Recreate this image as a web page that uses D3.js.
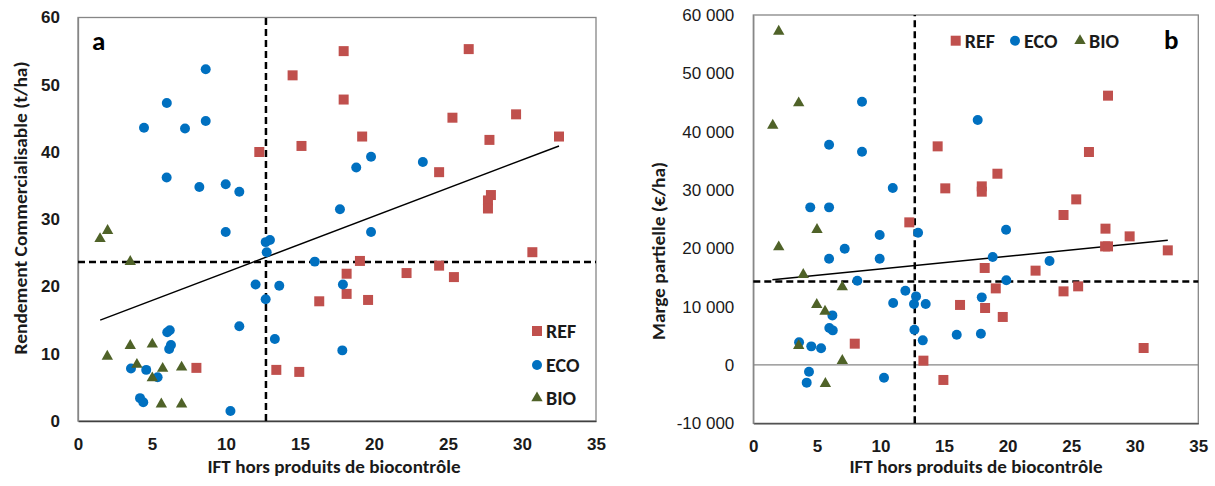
<!DOCTYPE html>
<html>
<head>
<meta charset="utf-8">
<script src="https://cdn.jsdelivr.net/npm/d3@7"></script>
<style>
  body { margin: 0; background: #fff; }
  svg { font-family: Carlito, Lato, sans-serif; }
</style>
</head>
<body>
<div id="chart"></div>
<script>
// shared x ticks
const iftTicks = [0, 5, 10, 15, 20, 25, 30, 35]

// panel a : rendement commercialisable (t/ha)
const yieldTicks = [0, 10, 20, 30, 40, 50, 60]
const refIftA = [12.25, 14.5, 15.1, 17.95, 17.95, 26.4, 25.3, 29.6, 19.2, 27.8, 32.5, 24.4, 27.9, 27.7, 27.7, 30.7, 16.3, 8.0, 13.4, 14.95, 19.05, 18.15, 22.2, 24.4, 25.4, 18.15, 19.6]
const refYield = [40.0, 51.4, 40.9, 55.0, 47.8, 55.3, 45.1, 45.6, 42.3, 41.8, 42.3, 37.0, 33.6, 32.8, 31.6, 25.1, 17.8, 7.9, 7.6, 7.3, 23.8, 21.9, 22.0, 23.1, 21.4, 18.9, 18.0]
const ecoIftA = [8.63, 6.0, 4.46, 7.23, 8.63, 5.99, 8.2, 9.98, 10.9, 9.98, 12.68, 12.97, 12.75, 19.8, 18.8, 23.3, 17.7, 19.8, 16.0, 12.0, 13.6, 12.68, 10.9, 13.3, 6.03, 6.2, 6.28, 6.16, 3.58, 4.61, 5.38, 4.19, 4.41, 10.3, 17.9, 17.86]
const ecoYield = [52.3, 47.3, 43.6, 43.5, 44.6, 36.2, 34.8, 35.2, 34.1, 28.1, 26.6, 26.9, 25.1, 39.3, 37.7, 38.5, 31.5, 28.1, 23.7, 20.3, 20.1, 18.1, 14.1, 12.2, 13.2, 13.5, 11.3, 10.7, 7.8, 7.6, 6.5, 3.4, 2.8, 1.5, 20.3, 10.5]
const bioIftA = [1.49, 2.0, 3.53, 3.53, 5.02, 1.98, 3.98, 5.72, 7.0, 5.02, 5.63, 7.0]
const bioYield = [27.1, 28.3, 23.7, 11.2, 11.4, 9.6, 8.4, 7.8, 8.0, 6.4, 2.5, 2.5]
const trendIftA = [1.5, 32.5]
const trendYield = [15.0, 40.9]
const yieldMean = 23.66

// panel b : marge partielle (€/ha)
const marginTicks = [-10000, 0, 10000, 20000, 30000, 40000, 50000, 60000]
const refIftB = [12.27, 7.98, 13.38, 27.9, 14.5, 26.4, 19.2, 15.1, 17.97, 17.97, 25.4, 24.4, 27.7, 29.6, 27.67, 27.9, 32.6, 18.2, 22.2, 19.07, 24.4, 25.55, 16.26, 18.23, 19.62, 30.7, 14.95]
const refMargin = [24450, 3650, 740, 46170, 37480, 36510, 32790, 30280, 30620, 29710, 28390, 25710, 23370, 22050, 20330, 20330, 19650, 16630, 16170, 13130, 12620, 13480, 10290, 9770, 8230, 2910, -2570]
const ecoIftB = [8.55, 5.96, 8.55, 10.97, 4.48, 5.96, 12.96, 9.94, 7.19, 5.96, 9.94, 8.18, 11.96, 12.8, 11.0, 12.64, 13.56, 6.22, 5.98, 6.25, 12.67, 13.33, 3.6, 4.56, 5.33, 4.38, 4.2, 10.28, 17.65, 19.88, 18.83, 23.3, 19.9, 17.97, 16.0, 17.9]
const ecoMargin = [45140, 37770, 36570, 30340, 27020, 27020, 22680, 22290, 19940, 18220, 18220, 14450, 12740, 11760, 10630, 10460, 10460, 8500, 6340, 5930, 6050, 4220, 3880, 3190, 2850, -1150, -3030, -2180, 42000, 23200, 18510, 17830, 14510, 11590, 5190, 5370]
const bioIftB = [2.0, 3.57, 1.53, 5.01, 2.0, 3.93, 7.0, 4.99, 5.64, 3.57, 7.0, 5.67]
const bioMargin = [57190, 44900, 41080, 23200, 20230, 15480, 13370, 10340, 9190, 3310, 740, -3200]
const trendIftB = [1.5, 32.6]
const trendMargin = [14600, 21370]
const marginMean = 14330

const iftMean = 12.7
const groups = ['REF', 'ECO', 'BIO']
const colors = { REF: '#C0504D', ECO: '#0070C0', BIO: '#4F6228' }
const shapes = { REF: d3.symbolSquare, ECO: d3.symbolCircle, BIO: d3.symbolTriangle }
const sizes = { REF: 100, ECO: 78, BIO: 56 }

const frLocale = d3.formatLocale({ decimal: ',', thousands: ' ', grouping: [3], currency: ['', ' €'], minus: '-' })

const svg = d3.select('#chart')
  .append('svg')
  .attr('width', 1215)
  .attr('height', 486)

const zip = (xs, ys) => xs.map((x, i) => ({ x, y: ys[i] }))

const drawPanel = (opt) => {
  const x = d3.scaleLinear().domain([0, 35]).range(opt.xRange)
  const y = d3.scaleLinear().domain(opt.yDomain).range(opt.yRange)
  const g = svg.append('g')

  // plot area border
  g.append('rect')
    .attr('x', opt.xRange[0])
    .attr('y', opt.yRange[1])
    .attr('width', opt.xRange[1] - opt.xRange[0])
    .attr('height', opt.yRange[0] - opt.yRange[1])
    .attr('fill', 'none')
    .attr('stroke', '#868686')
    .attr('stroke-width', 1.3)

  // zero line (panel b)
  if (opt.yDomain[0] < 0) {
    g.append('line')
      .attr('x1', x(0)).attr('x2', x(35))
      .attr('y1', y(0)).attr('y2', y(0))
      .attr('stroke', '#868686')
      .attr('stroke-width', 1.3)
  }

  const xAxis = g.append('g')
    .attr('transform', 'translate(0,' + opt.yRange[0] + ')')
    .call(d3.axisBottom(x).tickValues(iftTicks).tickSize(0).tickPadding(17))
  xAxis.select('.domain').attr('stroke', '#404040').attr('stroke-width', 1.3)
  xAxis.selectAll('text')
    .attr('fill', '#1a1a1a')
    .style('font-size', '17px')
    .style('font-weight', 'bold')

  const yAxis = g.append('g')
    .attr('transform', 'translate(' + opt.xRange[0] + ',0)')
    .call(d3.axisLeft(y).tickValues(opt.yTicks).tickSize(0).tickPadding(opt.yPad).tickFormat(opt.yFormat))
  yAxis.select('.domain').attr('stroke', '#868686').attr('stroke-width', 1.3)
  yAxis.selectAll('text')
    .attr('fill', '#1a1a1a')
    .style('font-size', '17px')
    .style('font-weight', opt.yBold ? 'bold' : 'normal')

  // dashed mean lines
  g.append('line')
    .attr('x1', x(iftMean)).attr('x2', x(iftMean))
    .attr('y1', opt.yRange[0]).attr('y2', opt.yRange[1])
    .attr('stroke', '#000')
    .attr('stroke-width', 2.5)
    .attr('stroke-dasharray', '7,4')
  g.append('line')
    .attr('x1', opt.xRange[0]).attr('x2', opt.xRange[1])
    .attr('y1', y(opt.yMean)).attr('y2', y(opt.yMean))
    .attr('stroke', '#000')
    .attr('stroke-width', 2.5)
    .attr('stroke-dasharray', '7,4')

  // trend line
  const line = d3.line().x(d => x(d.x)).y(d => y(d.y))
  g.append('path')
    .datum(zip(opt.trendX, opt.trendY))
    .attr('d', line)
    .attr('fill', 'none')
    .attr('stroke', '#000')
    .attr('stroke-width', 1.5)

  // points
  groups.forEach(k => {
    g.append('g')
      .selectAll('path')
      .data(zip(opt.series[k][0], opt.series[k][1]))
      .join('path')
      .attr('transform', d => 'translate(' + x(d.x) + ',' + y(d.y) + ')')
      .attr('d', d3.symbol().type(shapes[k]).size(sizes[k]))
      .attr('fill', colors[k])
  })

  // axis titles
  g.append('text')
    .attr('x', opt.xTitlePos[0])
    .attr('y', opt.xTitlePos[1])
    .attr('text-anchor', 'middle')
    .attr('fill', '#1a1a1a')
    .attr('textLength', 253)
    .attr('lengthAdjust', 'spacingAndGlyphs')
    .style('font-size', '19px')
    .style('font-weight', 'bold')
    .text('IFT hors produits de biocontrôle')
  g.append('text')
    .attr('transform', 'translate(' + opt.yTitlePos[0] + ',' + opt.yTitlePos[1] + ') rotate(-90)')
    .attr('text-anchor', 'middle')
    .attr('dy', '0.35em')
    .attr('fill', '#1a1a1a')
    .attr('textLength', opt.yTitleLen)
    .attr('lengthAdjust', 'spacingAndGlyphs')
    .style('font-size', '19px')
    .style('font-weight', 'bold')
    .text(opt.yTitle)

  // panel letter
  g.append('text')
    .attr('x', opt.letterPos[0])
    .attr('y', opt.letterPos[1])
    .attr('fill', '#000')
    .style('font-size', '27px')
    .style('font-weight', 'bold')
    .text(opt.letter)

  // legend
  opt.legendPos.forEach((p, i) => {
    const k = groups[i]
    const lg = g.append('g').attr('transform', 'translate(' + p[0] + ',' + p[1] + ')')
    lg.append('path')
      .attr('d', d3.symbol().type(shapes[k]).size(sizes[k]))
      .attr('fill', colors[k])
    lg.append('text')
      .attr('x', 9)
      .attr('dy', '0.36em')
      .attr('fill', '#1a1a1a')
      .style('font-size', '20px')
      .style('font-weight', 'bold')
      .text(k)
  })
}

drawPanel({
  xRange: [78, 596],
  yDomain: [0, 60],
  yRange: [421, 17.5],
  yTicks: yieldTicks,
  yFormat: d3.format('d'),
  yBold: true,
  yPad: 18,
  yMean: yieldMean,
  trendX: trendIftA,
  trendY: trendYield,
  series: { REF: [refIftA, refYield], ECO: [ecoIftA, ecoYield], BIO: [bioIftA, bioYield] },
  xTitlePos: [334, 473],
  yTitlePos: [20, 208],
  yTitle: 'Rendement Commercialisable (t/ha)',
  yTitleLen: 293,
  letter: 'a',
  letterPos: [92, 50],
  legendPos: [[537, 331], [537, 365], [537, 398]]
})

drawPanel({
  xRange: [753.3, 1198.3],
  yDomain: [-10000, 60000],
  yRange: [423.3, 15],
  yTicks: marginTicks,
  yFormat: frLocale.format(',d'),
  yBold: false,
  yPad: 19,
  yMean: marginMean,
  trendX: trendIftB,
  trendY: trendMargin,
  series: { REF: [refIftB, refMargin], ECO: [ecoIftB, ecoMargin], BIO: [bioIftB, bioMargin] },
  xTitlePos: [976, 473],
  yTitlePos: [658, 251],
  yTitle: 'Marge partielle (€/ha)',
  yTitleLen: 178,
  letter: 'b',
  letterPos: [1164, 49],
  legendPos: [[955.7, 40.7], [1015, 40.7], [1080, 40.7]]
})
</script>
</body>
</html>
